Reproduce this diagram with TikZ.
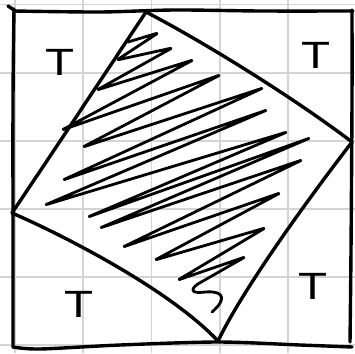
\documentclass[tikz,border=0pt]{standalone}
\usepackage{fontspec}
\setmainfont{Liberation Sans}
\begin{document}
\begin{tikzpicture}[x=1pt,y=-1pt,
  gridline/.style={draw=black!17,line width=1.8pt},
  ink/.style={draw=black,line width=3.4pt,line cap=round,line join=round},
  hatch/.style={draw=black,line width=2.8pt,line cap=round,line join=round,rounded corners=2pt},
  tlabel/.style={inner sep=0pt,font=\fontsize{38}{38}\selectfont,xscale=1.25}]
\useasboundingbox (0,0) rectangle (355,353);
% grid
\foreach \i in {0,...,4} {
  \draw[gridline] ({15+68.2*\i},0) -- ({15+68.2*\i},353);
  \draw[gridline] (0,{4.5+68.1*\i}) -- (355,{4.5+68.1*\i});
}
\draw[gridline] (0,345) -- (355,345);
% outer square
\draw[ink] (8,6) -- (14,10);
\draw[ink] plot[smooth] coordinates {(14,11) (100,12) (175,10) (260,11) (353,11)};
\draw[ink] plot[smooth] coordinates {(352,10) (352,100) (351,250) (350,342)};
\draw[ink] plot[smooth] coordinates {(14,9) (13,100) (13,250) (13,347)};
\draw[ink] plot[smooth] coordinates {(13,347) (40,349) (120,345) (218,342) (300,345) (352,347)};
% inner tilted square
\coordinate (qt) at (146,12);
\coordinate (qr) at (352,142);
\coordinate (qb) at (218,341);
\coordinate (ql) at (12,213);
\draw[ink] (qt) .. controls (200,40) and (290,95) .. (qr);
\draw[ink] (qr) .. controls (315,190) and (245,285) .. (qb);
\draw[ink] (qb) .. controls (170,290) and (65,236) .. (ql);
\draw[ink] (ql) .. controls (57,146) and (104,75) .. (qt);
% hatching zigzag
\draw[hatch] (128,42) -- (158,33) -- (117,60) -- (172,48) -- (97,90) -- (193,60)
  -- (62,130) -- (220,75) -- (83,147) -- (263,88) -- (63,180) -- (267,110)
  -- (45,205) -- (287,132) -- (88,217) -- (310,138) -- (100,228) -- (302,160)
  -- (123,247) -- (280,193) -- (155,260) -- (265,228) -- (178,280) -- (245,257)
  -- (196,285) .. controls (190,292) and (195,293) .. (205,292)
  .. controls (225,291) and (226,300) .. (212,312);
% labels
\node[tlabel] (t1) at (60,62) {T};
\node[tlabel] (t2) at (316,55) {T};
\node[tlabel] (t3) at (79,304) {T};
\node[tlabel] (t4) at (313,286) {T};
\end{tikzpicture}
\end{document}
